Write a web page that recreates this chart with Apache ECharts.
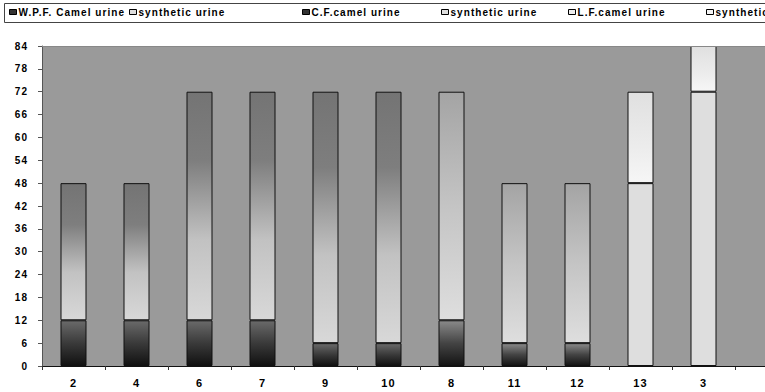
<!DOCTYPE html>
<html><head><meta charset="utf-8">
<script src="https://cdn.jsdelivr.net/npm/echarts@6/dist/echarts.min.js"></script>
<style>html,body{margin:0;padding:0;background:#fff}#c{width:765px;height:392px}
#c svg text{letter-spacing:1.05px}</style>
</head><body><div id="c"></div>
<script>
const categories = ['2','4','6','7','9','10','8','11','12','13','3'];
const seriesNames = ['W.P.F. Camel urine','synthetic urine','C.F.camel urine','synthetic urine ','L.F.camel urine','synthetic urine  '];
const wpfCamel = [12,12,12,12,6,6,null,null,null,null,null];
const synthetic1 = [36,36,60,60,66,66,null,null,null,null,null];
const cfCamel = [null,null,null,null,null,null,12,6,6,null,null];
const synthetic2 = [null,null,null,null,null,null,60,42,42,null,null];
const lfCamel = [null,null,null,null,null,null,null,null,null,48,72];
const synthetic3 = [null,null,null,null,null,null,null,null,null,24,12];
const yTicks = {min:0, max:84, interval:6};

function grad(stops){
  return {type:'linear',x:0,y:0,x2:0,y2:1,colorStops:stops.map(s=>({offset:s[0],color:s[1]}))};
}
const fills = [
  grad([[0,'#6a6a6a'],[0.5,'#3a3a3a'],[1,'#111111']]),
  grad([[0,'#747474'],[0.3,'#7e7e7e'],[0.65,'#c2c2c2'],[1,'#d8d8d8']]),
  grad([[0,'#8a8a8a'],[0.5,'#444444'],[1,'#141414']]),
  grad([[0,'#a4a4a4'],[0.5,'#c4c4c4'],[1,'#dedede']]),
  '#dedede',
  grad([[0,'#e0e0e0'],[0.6,'#ececec'],[1,'#f6f6f6']])
];
const legendIcon = ['#333','#ddd','#333','#ddd','#eee','#f4f4f4'];
const dataSets = [wpfCamel,synthetic1,cfCamel,synthetic2,lfCamel,synthetic3];
const legendLefts = [9,129,302,441,568,706];

const font = 'Liberation Sans, Arial, sans-serif';
const chart = echarts.init(document.getElementById('c'), null, {renderer:'svg'});
chart.setOption({
  animation:false,
  backgroundColor:'#ffffff',
  graphic:[
    {type:'rect',left:4,top:3,shape:{width:800,height:19},style:{fill:'#fff',stroke:'#444',lineWidth:1},z:-1},
    {type:'rect',left:735,top:46,shape:{width:40,height:320},style:{fill:'#9a9a9a'},z:-1},
    {type:'line',shape:{x1:42,y1:46.5,x2:765,y2:46.5},style:{stroke:'#888',lineWidth:1},z:5},
    {type:'line',shape:{x1:735,y1:366.5,x2:765,y2:366.5},style:{stroke:'#111',lineWidth:1},z:5}
  ],
  legend: seriesNames.map((n,i)=>({
    data:[{name:n,icon:'rect',itemStyle:{color:legendIcon[i],borderColor:'#000',borderWidth:1}}],
    left:legendLefts[i], top:7, padding:0, itemWidth:7, itemHeight:5, itemGap:0,
    textStyle:{fontFamily:font,fontSize:10,fontWeight:'bold',color:'#000',padding:[0,0,0,-3]}
  })),
  grid:{left:42, top:46, width:693, height:320, show:true, backgroundColor:'#9a9a9a', borderWidth:0},
  xAxis:{type:'category', data:categories,
    axisLine:{lineStyle:{color:'#111',width:1}},
    axisTick:{show:true, alignWithLabel:false, length:4, lineStyle:{color:'#333'}},
    axisLabel:{fontFamily:font,fontSize:11,fontWeight:'bold',color:'#000',margin:11}},
  yAxis:{type:'value', min:yTicks.min, max:yTicks.max, interval:yTicks.interval,
    axisLine:{show:true,lineStyle:{color:'#555'}},
    axisTick:{show:true,length:4,lineStyle:{color:'#555'}},
    splitLine:{show:false},
    axisLabel:{fontFamily:font,fontSize:10,fontWeight:'bold',color:'#000',margin:14}},
  series: dataSets.map((d,i)=>({
    name:seriesNames[i], type:'bar', stack:'all', data:d, barWidth:26,
    itemStyle:{color:fills[i], borderColor:'#111', borderWidth:1}
  }))
});
</script></body></html>
